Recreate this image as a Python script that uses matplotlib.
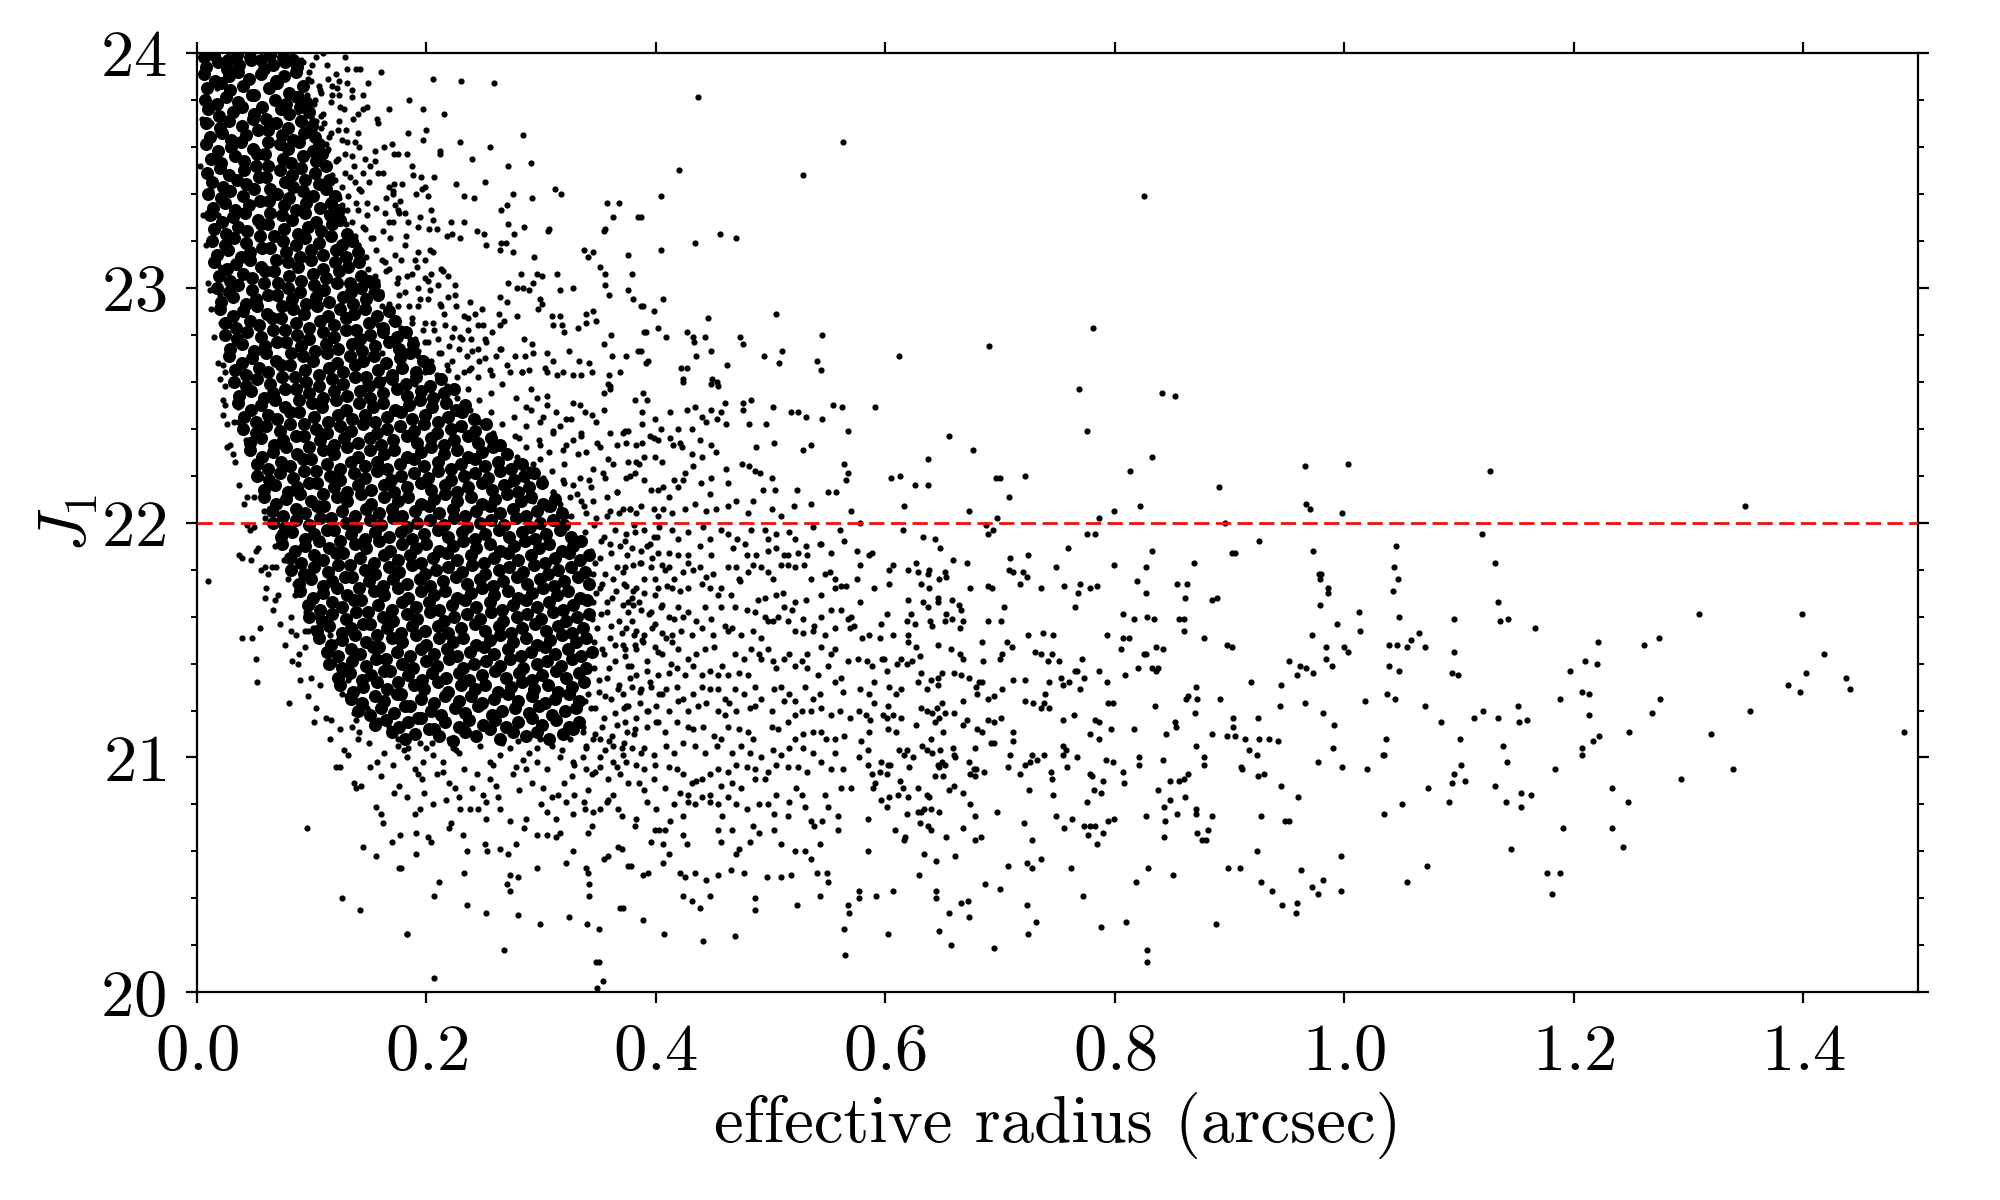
import numpy as np
import matplotlib.pyplot as plt
from matplotlib.ticker import MultipleLocator

plt.rcParams['font.family'] = 'serif'
plt.rcParams['font.serif'] = ['cmr10']
plt.rcParams['mathtext.fontset'] = 'cm'
plt.rcParams['axes.formatter.use_mathtext'] = True

# points as (effective radius in 1e-3 arcsec, J1 in 1e-2 mag)
# saturated core: single points cannot be told apart there, so these are estimates
core_upper = [
    (6,2398),(15,2399),(27,2397),(35,2399),(46,2398),(56,2397),(64,2399),(75,2398),(84,2397),
    (8,2394),(18,2396),(26,2393),(37,2395),(47,2397),(58,2393),(66,2395),(77,2396),(87,2394),
    (6,2391),(16,2388),(28,2390),(36,2392),(45,2389),(56,2391),(69,2388),(76,2390),(86,2392),
    (9,2385),(21,2387),(29,2384),(40,2386),(50,2382),(63,2385),(70,2387),(80,2383),(92,2386),
    (7,2380),(17,2378),(25,2381),(36,2379),(48,2382),(57,2377),(68,2380),(78,2378),(87,2381),(95,2379),
    (10,2376),(19,2373),(31,2375),(39,2377),(50,2374),(60,2372),(73,2376),(80,2374),(90,2377),(98,2375),
    (8,2370),(20,2368),(28,2371),(39,2369),(49,2372),(62,2367),(69,2370),(79,2368),(91,2371),(100,2369),
    (11,2364),(22,2366),(30,2363),(43,2365),(53,2367),(62,2362),(74,2365),(84,2363),(93,2366),(103,2364),
    (8,2361),(18,2358),(30,2360),(38,2362),(49,2359),(59,2357),(72,2361),(79,2359),(89,2362),(101,2358),(106,2361),
    (12,2355),(21,2353),(33,2356),(41,2354),(52,2357),(62,2352),(75,2355),(82,2353),(92,2356),(104,2354),(109,2357),
    (9,2349),(20,2351),(28,2348),(41,2350),(51,2352),(60,2347),(72,2350),(83,2348),(91,2351),(103,2349),(112,2352),
    (13,2345),(23,2343),(35,2346),(43,2344),(54,2347),(64,2342),(77,2345),(84,2343),(94,2346),(106,2344),(115,2346),
    (10,2340),(21,2338),(29,2341),(40,2339),(50,2342),(63,2337),(70,2340),(80,2338),(92,2341),(101,2339),(112,2342),(120,2339),
    (14,2334),(24,2336),(33,2333),(45,2335),(55,2337),(64,2332),(76,2335),(86,2333),(95,2336),(107,2334),(117,2336),(124,2333),
    (11,2331),(22,2328),(31,2330),(42,2332),(53,2329),(62,2327),(74,2331),(83,2329),(94,2332),(104,2328),(116,2331),(125,2329),
    (15,2325),(25,2323),(36,2326),(44,2324),(56,2327),(67,2322),(76,2325),(88,2323),(97,2326),(108,2324),(118,2327),(131,2323),
    (13,2320),(24,2318),(32,2321),(43,2319),(55,2322),(64,2317),(75,2320),(86,2318),(94,2321),(106,2319),(117,2322),(126,2318),(135,2320),
    (17,2314),(27,2316),(38,2313),(46,2315),(57,2317),(69,2312),(78,2315),(90,2313),(99,2316),(110,2314),(121,2316),(130,2313),(140,2315),
    (15,2311),(26,2308),(34,2310),(46,2312),(56,2309),(67,2307),(79,2311),(88,2309),(99,2312),(110,2308),(120,2311),(132,2309),(141,2311),
    (19,2305),(29,2303),(40,2306),(48,2304),(59,2307),(71,2302),(80,2305),(91,2303),(101,2306),(112,2304),(124,2307),(133,2302),(143,2305),(150,2303),
    (17,2300),(28,2298),(36,2301),(48,2299),(58,2302),(70,2297),(79,2300),(90,2298),(102,2301),(111,2299),(122,2302),(134,2298),(143,2300),(154,2301),
    (21,2294),(31,2296),(43,2293),(51,2295),(62,2297),(74,2292),(83,2295),(95,2293),(104,2296),(115,2294),(127,2296),(136,2293),(147,2295),(158,2297),
    (20,2291),(31,2288),(40,2290),(52,2292),(61,2289),(73,2287),(84,2291),(93,2289),(105,2292),(114,2288),(125,2291),(137,2289),(146,2291),(157,2288),(167,2290),
    (24,2285),(34,2283),(46,2286),(54,2284),(65,2287),(77,2282),(86,2285),(98,2283),(107,2286),(119,2284),(130,2287),(139,2282),(150,2285),(162,2283),(173,2286),
    (24,2280),(35,2278),(44,2281),(56,2279),(66,2282),(78,2277),(87,2280),(98,2278),(110,2281),(119,2279),(130,2282),(142,2278),(151,2280),(162,2281),(174,2279),(182,2281),
    (29,2274),(39,2276),(50,2273),(59,2275),(70,2277),(82,2272),(91,2275),(103,2273),(112,2276),(123,2274),(135,2276),(144,2273),(155,2275),(167,2277),(176,2274),(188,2276),
    (28,2271),(39,2268),(48,2270),(60,2272),(69,2269),(81,2267),(92,2271),(101,2269),(113,2272),(122,2268),(133,2271),(145,2269),(154,2271),(165,2268),(177,2270),(186,2272),(197,2269),
    (33,2265),(43,2263),(54,2266),(62,2264),(73,2267),(85,2262),(94,2265),(106,2263),(115,2266),(127,2264),(138,2267),(147,2262),(158,2265),(170,2263),(179,2266),(191,2264),(202,2266),
    (32,2260),(43,2258),(52,2261),(64,2259),(74,2262),(86,2257),(95,2260),(106,2258),(118,2261),(127,2259),(138,2262),(150,2258),(159,2260),(170,2261),(182,2259),(191,2262),(203,2258),(213,2261),
]
core_lower = [
    (37,2254),(47,2256),(58,2253),(66,2255),(77,2257),(89,2252),(98,2255),(110,2253),(119,2256),(131,2254),(142,2256),(151,2253),(162,2255),(174,2257),(183,2254),(195,2256),(206,2253),(215,2255),(224,2257),
    (36,2251),(47,2248),(56,2250),(68,2252),(77,2249),(89,2247),(100,2251),(109,2249),(121,2252),(130,2248),(141,2251),(153,2249),(162,2251),(173,2248),(185,2250),(194,2252),(205,2249),(217,2251),(226,2248),(234,2250),
    (41,2245),(51,2243),(62,2246),(70,2244),(81,2247),(93,2242),(102,2245),(114,2243),(123,2246),(135,2244),(146,2246),(155,2243),(166,2245),(178,2247),(187,2244),(199,2246),(210,2243),(219,2245),(231,2247),(241,2244),
    (40,2240),(51,2238),(60,2241),(72,2239),(81,2242),(93,2237),(104,2240),(113,2238),(125,2241),(134,2239),(145,2242),(157,2238),(166,2240),(177,2241),(189,2239),(198,2242),(209,2238),(221,2240),(230,2241),(242,2239),(252,2242),
    (46,2234),(56,2236),(67,2233),(75,2235),(86,2237),(98,2232),(107,2235),(119,2233),(128,2236),(140,2234),(151,2236),(160,2233),(171,2235),(183,2237),(192,2234),(204,2236),(215,2233),(224,2235),(236,2237),(245,2234),(256,2236),(264,2233),
    (46,2231),(57,2228),(66,2230),(78,2232),(87,2229),(99,2227),(110,2231),(119,2229),(131,2232),(140,2228),(151,2231),(163,2229),(172,2231),(183,2228),(195,2230),(204,2232),(215,2229),(227,2231),(236,2228),(248,2230),(258,2232),(270,2229),
    (52,2225),(62,2223),(73,2226),(81,2224),(92,2227),(104,2222),(113,2225),(125,2223),(134,2226),(146,2224),(157,2226),(166,2223),(177,2225),(189,2227),(198,2224),(210,2226),(221,2223),(230,2225),(242,2227),(251,2224),(262,2226),(274,2223),(283,2225),
    (52,2220),(63,2218),(72,2221),(84,2219),(93,2222),(105,2217),(116,2220),(125,2218),(137,2221),(146,2219),(157,2222),(169,2218),(178,2220),(189,2221),(201,2219),(210,2222),(221,2218),(233,2220),(242,2221),(254,2219),(264,2222),(276,2218),(285,2220),(294,2221),
    (58,2214),(68,2216),(79,2213),(87,2215),(98,2217),(110,2212),(119,2215),(131,2213),(140,2216),(152,2214),(163,2216),(172,2213),(183,2215),(195,2217),(204,2214),(216,2216),(227,2213),(236,2215),(248,2217),(257,2214),(268,2216),(280,2213),(289,2215),(301,2217),
    (58,2211),(69,2208),(78,2210),(90,2212),(99,2209),(111,2207),(122,2211),(131,2209),(143,2212),(152,2208),(163,2211),(175,2209),(184,2211),(195,2208),(207,2210),(216,2212),(227,2209),(239,2211),(248,2208),(260,2210),(270,2212),(282,2209),(291,2211),(302,2208),(312,2210),
    (65,2205),(75,2203),(86,2206),(94,2204),(105,2207),(117,2202),(126,2205),(138,2203),(147,2206),(159,2204),(170,2206),(179,2203),(190,2205),(202,2207),(211,2204),(223,2206),(234,2203),(243,2205),(255,2207),(264,2204),(275,2206),(287,2203),(296,2205),(308,2207),(318,2204),
    (66,2200),(77,2198),(86,2201),(98,2199),(107,2202),(119,2197),(130,2200),(139,2198),(151,2201),(160,2199),(171,2202),(183,2198),(192,2200),(203,2201),(215,2199),(224,2202),(235,2198),(247,2200),(256,2201),(268,2199),(278,2202),(290,2198),(299,2200),(310,2201),(320,2199),
    (73,2194),(83,2196),(94,2193),(102,2195),(113,2197),(125,2192),(134,2195),(146,2193),(155,2196),(167,2194),(178,2196),(187,2193),(198,2195),(210,2197),(219,2194),(231,2196),(242,2193),(251,2195),(263,2197),(272,2194),(283,2196),(295,2193),(304,2195),(316,2197),(326,2194),
    (74,2191),(85,2188),(94,2190),(106,2192),(115,2189),(127,2187),(138,2191),(147,2189),(159,2192),(168,2188),(179,2191),(191,2189),(200,2191),(211,2188),(223,2190),(232,2192),(243,2189),(255,2191),(264,2188),(276,2190),(286,2192),(298,2189),(307,2191),(318,2188),(328,2190),(335,2192),
    (81,2185),(91,2183),(102,2186),(110,2184),(121,2187),(133,2182),(142,2185),(154,2183),(163,2186),(175,2184),(186,2186),(195,2183),(206,2185),(218,2187),(227,2184),(239,2186),(250,2183),(259,2185),(271,2187),(280,2184),(291,2186),(303,2183),(312,2185),(324,2187),(334,2184),(342,2186),
    (82,2180),(93,2178),(102,2181),(114,2179),(123,2182),(135,2177),(146,2180),(155,2178),(167,2181),(176,2179),(187,2182),(199,2178),(208,2180),(219,2181),(231,2179),(240,2182),(251,2178),(263,2180),(272,2181),(284,2179),(294,2182),(306,2178),(315,2180),(326,2181),(338,2179),
    (89,2174),(99,2176),(110,2173),(118,2175),(129,2177),(141,2172),(150,2175),(162,2173),(171,2176),(183,2174),(194,2176),(203,2173),(214,2175),(226,2177),(235,2174),(247,2176),(258,2173),(267,2175),(279,2177),(288,2174),(299,2176),(311,2173),(320,2175),(332,2177),(342,2174),
    (90,2171),(101,2168),(110,2170),(122,2172),(131,2169),(143,2167),(154,2171),(163,2169),(175,2172),(184,2168),(195,2171),(207,2169),(216,2171),(227,2168),(239,2170),(248,2172),(259,2169),(271,2171),(280,2168),(292,2170),(302,2172),(314,2169),(323,2171),(334,2168),
    (97,2165),(107,2163),(118,2166),(126,2164),(137,2167),(149,2162),(158,2165),(170,2163),(179,2166),(191,2164),(202,2166),(211,2163),(222,2165),(234,2167),(243,2164),(255,2166),(266,2163),(275,2165),(287,2167),(296,2164),(307,2166),(319,2163),(328,2165),(340,2167),
    (98,2160),(109,2158),(118,2161),(130,2159),(139,2162),(151,2157),(162,2160),(171,2158),(183,2161),(192,2159),(203,2162),(215,2158),(224,2160),(235,2161),(247,2159),(256,2162),(267,2158),(279,2160),(288,2161),(300,2159),(310,2162),(322,2158),(331,2160),(342,2161),
    (105,2154),(115,2156),(126,2153),(134,2155),(145,2157),(157,2152),(166,2155),(178,2153),(187,2156),(199,2154),(210,2156),(219,2153),(230,2155),(242,2157),(251,2154),(263,2156),(274,2153),(283,2155),(295,2157),(304,2154),(315,2156),(327,2153),(336,2155),
    (106,2151),(117,2148),(126,2150),(138,2152),(147,2149),(159,2147),(170,2151),(179,2149),(191,2152),(200,2148),(211,2151),(223,2149),(232,2151),(243,2148),(255,2150),(264,2152),(275,2149),(287,2151),(296,2148),(308,2150),(318,2152),(330,2149),(339,2151),
    (113,2145),(123,2143),(134,2146),(142,2144),(153,2147),(165,2142),(174,2145),(186,2143),(195,2146),(207,2144),(218,2146),(227,2143),(238,2145),(250,2147),(259,2144),(271,2146),(282,2143),(291,2145),(303,2147),(312,2144),(323,2146),(335,2143),(344,2145),
    (115,2140),(126,2138),(135,2141),(147,2139),(156,2142),(168,2137),(179,2140),(188,2138),(200,2141),(209,2139),(220,2142),(232,2138),(241,2140),(252,2141),(264,2139),(273,2142),(284,2138),(296,2140),(305,2141),(317,2139),(327,2142),(339,2138),
    (123,2134),(133,2136),(144,2133),(152,2135),(163,2137),(175,2132),(184,2135),(196,2133),(205,2136),(217,2134),(228,2136),(237,2133),(248,2135),(260,2137),(269,2134),(281,2136),(292,2133),(301,2135),(313,2137),(322,2134),(333,2136),
    (125,2131),(136,2128),(145,2130),(157,2132),(166,2129),(178,2127),(189,2131),(198,2129),(210,2132),(219,2128),(230,2131),(242,2129),(251,2131),(262,2128),(274,2130),(283,2132),(294,2129),(306,2131),(315,2128),(327,2130),(337,2132),
    (134,2125),(144,2123),(155,2126),(163,2124),(174,2127),(186,2122),(195,2125),(207,2123),(216,2126),(228,2124),(239,2126),(248,2123),(259,2125),(271,2127),(280,2124),(292,2126),(303,2123),(312,2125),(324,2127),(333,2124),
    (140,2120),(151,2118),(160,2121),(172,2119),(181,2122),(193,2117),(204,2120),(213,2118),(225,2121),(234,2119),(245,2122),(257,2118),(266,2120),(277,2121),(289,2119),(298,2122),(309,2118),(321,2120),(330,2121),
    (155,2114),(165,2116),(176,2113),(184,2115),(195,2117),(207,2112),(216,2115),(228,2113),(237,2116),(249,2114),(260,2116),(269,2113),(280,2115),(292,2117),(301,2114),(313,2116),(324,2113),(333,2115),
    (170,2111),(181,2108),(190,2110),(202,2112),(211,2109),(223,2107),(234,2111),(243,2109),(255,2112),(264,2108),(275,2111),(287,2109),(296,2111),(307,2108),(319,2110),(328,2112),
]

# thinning fringe round the core (estimated, same dot size as the rest)
fringe_pts = [
    (92,2396),(98,2392),(104,2398),(113,2395),(121,2391),(99,2388),(107,2384),(114,2389),(122,2385),(131,2387),
    (96,2382),(102,2378),(110,2374),(117,2379),(128,2376),(136,2372),(104,2371),(108,2368),(115,2364),(123,2367),
    (131,2362),(140,2366),(112,2361),(113,2358),(121,2354),(129,2357),(137,2352),(146,2355),(155,2358),(118,2348),
    (126,2343),(133,2347),(141,2342),(150,2345),(158,2349),(167,2343),(124,2338),(131,2333),(139,2336),(148,2331),
    (156,2334),(165,2338),(176,2332),(130,2327),(138,2322),(145,2326),(153,2321),(162,2324),(171,2328),(182,2322),
    (193,2326),(140,2318),(147,2313),(156,2316),(164,2311),(173,2314),(181,2318),(190,2312),(203,2316),(149,2308),
    (157,2303),(165,2307),(174,2302),(183,2305),(192,2309),(201,2303),(214,2307),(160,2298),(167,2293),(176,2297),
    (185,2292),(194,2295),(203,2299),(212,2293),(225,2297),(238,2294),(170,2288),(178,2283),(187,2287),(197,2282),
    (206,2285),(215,2289),(224,2283),(236,2287),(249,2284),(186,2278),(193,2273),(201,2277),(211,2272),(220,2275),
    (229,2279),(240,2273),(252,2277),(265,2274),(200,2268),(209,2263),(218,2267),(227,2262),(237,2265),(246,2269),
    (257,2263),(270,2267),(283,2264),(218,2258),(227,2253),(236,2257),(246,2252),(256,2255),(266,2259),(278,2253),
    (291,2257),(305,2254),(238,2248),(247,2243),(256,2247),(266,2242),(276,2245),(287,2249),(299,2243),(313,2247),
    (326,2244),(258,2238),(267,2233),(277,2237),(287,2232),(298,2235),(310,2239),(322,2233),(335,2237),(349,2234),
    (279,2228),(289,2223),(299,2227),(309,2222),(320,2225),(332,2229),(345,2223),(358,2227),(299,2218),(310,2213),
    (320,2217),(331,2212),(343,2215),(356,2219),(366,2213),(316,2208),(326,2203),(337,2207),(348,2202),(360,2205),
    (150,2106),(163,2102),(171,2097),(184,2104),(193,2093),(205,2106),(214,2098),(226,2103),(233,2095),(247,2105),
    (258,2097),(266,2106),(275,2093),(284,2099),(296,2104),(305,2095),(318,2103),(327,2092),(336,2100),(347,2094),
    (356,2103),(366,2096),(160,2092),(176,2088),(198,2085),(217,2082),(240,2087),(262,2083),(281,2086),(300,2080),
    (320,2089),(341,2086),(358,2082),(190,2076),(221,2072),(252,2074),(285,2070),(316,2068),(344,2071),
    (4,2372),(3,2352),(5,2331),(8,2318),(10,2302),(12,2291),(15,2279),(18,2268),(20,2261),(23,2252),
    (26,2242),(29,2233),(33,2226),(37,2216),(41,2208),(46,2197),(51,2188),(56,2180),(60,2172),(66,2163),
    (72,2157),(77,2148),(83,2141),(90,2133),(97,2126),(104,2121),(112,2117),(125,2112),(140,2108),(30,2270),
    (14,2330),(6,2385),
    (352,2192),(361,2187),(347,2183),(356,2178),(366,2181),(351,2172),(362,2168),(372,2174),(345,2166),(357,2162),
    (368,2158),(349,2155),(360,2151),(371,2148),(353,2146),(364,2141),(346,2138),(357,2134),(368,2131),(350,2128),
    (361,2125),(372,2121),(343,2121),(355,2117),(366,2114),(347,2110),(359,2107),(370,2104),(339,2104),(351,2100),
    (336,2113),(341,2127),(376,2166),(369,2190),(378,2139),(363,2098),(329,2097),(344,2093),(375,2111),(381,2152),
    (338,2196),(346,2199),(355,2194),(364,2197),(373,2192),(381,2199),(392,2190),(401,2194),(343,2188),(351,2185),
    (360,2191),(375,2186),(386,2183),(397,2185),(408,2180),(345,2178),(353,2174),(363,2176),(371,2179),(380,2171),
    (390,2176),(399,2169),(410,2173),(348,2170),(357,2166),(365,2171),(376,2162),(385,2166),(394,2161),(404,2164),
    (416,2159),(344,2159),(352,2161),(361,2156),(370,2153),(379,2158),(388,2150),(397,2155),(409,2151),(346,2149),
    (355,2144),(364,2148),(373,2143),(383,2146),(392,2141),(402,2145),(413,2140),(341,2137),(350,2133),(359,2138),
    (367,2129),(377,2134),(386,2128),(395,2132),(405,2127),(338,2124),(347,2121),(356,2126),(364,2119),(374,2122),
    (383,2117),(392,2120),(402,2115),(336,2111),(345,2108),(353,2113),(362,2109),(372,2106),(381,2110),(390,2104),
]

# resolvable points around the core, r < 0.4
edge_upper = [
    (83,2399),(110,2400),(129,2398),(131,2393),(139,2393),(142,2393),(160,2392),(206,2389),(230,2388),(259,2387),
    (124,2388),(118,2386),(149,2387),(124,2382),(118,2382),(135,2384),(135,2381),(145,2382),(148,2377),(145,2376),
    (140,2374),(125,2377),(185,2380),(197,2376),(167,2376),(157,2372),(158,2370),(215,2374),(124,2371),(130,2367),
    (184,2366),(200,2367),(197,2363),(284,2365),(138,2362),(141,2360),(163,2360),(170,2361),(172,2357),(175,2357),
    (183,2357),(212,2358),(212,2357),(229,2362),(240,2355),(255,2360),(271,2352),(291,2353),(155,2354),(151,2352),
    (162,2349),(145,2349),(187,2352),(188,2348),(195,2347),(207,2347),(172,2344),(179,2344),(171,2341),(171,2340),
    (191,2340),(196,2342),(199,2343),(201,2339),(226,2344),(233,2339),(241,2338),(251,2345),(275,2340),(292,2338),
    (312,2342),(317,2340),(357,2336),(368,2336),(363,2330),(384,2330),(356,2325),(355,2324),(265,2333),(270,2335),
    (271,2327),(276,2323),(285,2326),(306,2324),(307,2325),(204,2333),(206,2329),(202,2325),(209,2325),(194,2330),
    (173,2335),(177,2337),(175,2333),(181,2332),(184,2328),(167,2328),(168,2321),(164,2332),(221,2328),(233,2328),
    (222,2323),(229,2321),(218,2322),(244,2324),(250,2323),(252,2318),(265,2319),(269,2319),(264,2316),(275,2315),
    (294,2313),(337,2316),(341,2313),(345,2315),(376,2314),(351,2309),(356,2306),(379,2306),(356,2301),(359,2297),
    (376,2299),(387,2292),(380,2295),(328,2300),(316,2299),(314,2306),(296,2306),(301,2305),(282,2306),(271,2302),
    (279,2300),(284,2300),(289,2299),(293,2302),(299,2295),(301,2293),(297,2291),(264,2296),(270,2294),(279,2288),
    (309,2288),(316,2288),(310,2284),(318,2284),(320,2281),(339,2289),(345,2290),(339,2285),(348,2286),(332,2283),
    (361,2280),(390,2281),(355,2276),(362,2271),(374,2271),(384,2273),(391,2268),(369,2264),(359,2263),(358,2259),
    (360,2257),(324,2273),(333,2269),(342,2268),(344,2264),(305,2272),(310,2269),(305,2264),(303,2266),(314,2263),
    (319,2264),(328,2263),(335,2263),(285,2278),(292,2276),(293,2272),(286,2271),(277,2271),(273,2264),(283,2264),
    (289,2265),(263,2289),(268,2286),(264,2284),(257,2281),(251,2278),(261,2271),(264,2274),(251,2270),(255,2265),
    (226,2292),(233,2288),(242,2289),(248,2291),(245,2284),(236,2282),(231,2278),(239,2278),(245,2274),(235,2271),
    (228,2274),(222,2269),(239,2266),(245,2262),(233,2264),
    (193,2315),(199,2312),(206,2315),(213,2308),(219,2305),(204,2306),(199,2304),(193,2300),(210,2301),(219,2296),
    (225,2301),(213,2292),(201,2295),(193,2292),(187,2285),(199,2285),(207,2282),(216,2284),(222,2279),(210,2278),
    (199,2277),(190,2278),(193,2271),(204,2269),(213,2272),(219,2265),(210,2262),(199,2264),(190,2259),(178,2267),
    (175,2272),(169,2278),(178,2282),(169,2286),(175,2292),(181,2298),(175,2304),(167,2308),(178,2312),(187,2306),
    (161,2312),(155,2305),(152,2298),(161,2292),(158,2284),(152,2278),(161,2272),(155,2265),(164,2261),(146,2259),
    (111,2370),(117,2366),(126,2363),(114,2359),(123,2355),(135,2356),(129,2349),(120,2346),(138,2345),(143,2341),
    (132,2339),(126,2335),(140,2333),(148,2336),(135,2328),(146,2325),(152,2321),(140,2318),(129,2321),(117,2326),
    (65,2397),(74,2396),(91,2397),(100,2395),(76,2390),(85,2392),(97,2389),(106,2386),(71,2386),(79,2383),
    (91,2382),(103,2380),(108,2383),(68,2379),(76,2376),(88,2375),(100,2372),(108,2373),
    (10,2348),(12,2341),(11,2299),(20,2297),(23,2267),(24,2264),(21,2285),(27,2284),(18,2331),(18,2315),
    (20,2309),(17,2385),(11,2377),(12,2370),
]
edge_lower = [
    (360,2258),(355,2255),(355,2248),(348,2243),(344,2246),(338,2247),(334,2250),(328,2251),(322,2244),(316,2241),
    (310,2238),(302,2245),(305,2250),(296,2253),(291,2248),(287,2241),(281,2236),(299,2233),(307,2230),(319,2231),
    (328,2235),(335,2238),(339,2230),(351,2232),(360,2238),(366,2233),(373,2239),(376,2226),(363,2225),(354,2221),
    (342,2218),(334,2219),(328,2216),(319,2218),(310,2213),(302,2219),(293,2225),(287,2218),(278,2226),(273,2216),
    (281,2209),(293,2209),(305,2206),(316,2206),(325,2211),(335,2209),(345,2209),(357,2211),(366,2213),(374,2219),
    (377,2206),(368,2204),(357,2203),(339,2204),(322,2203),
    (10,2175),(37,2186),(39,2185),(47,2184),(53,2189),(59,2181),(65,2181),(62,2178),(59,2168),(68,2167),
    (71,2169),(39,2151),(48,2151),(55,2155),(51,2142),(52,2132),(80,2123),(82,2160),(82,2154),(86,2152),
    (94,2154),(97,2154),(101,2155),(94,2147),(89,2144),(88,2140),(99,2134),(107,2131),(102,2115),(117,2116),
    (116,2108),(126,2127),(131,2126),(128,2103),(132,2101),(121,2096),(125,2096),(137,2089),(139,2087),(143,2088),
    (96,2070),(145,2062),(156,2079),(160,2076),(162,2072),(172,2085),(170,2064),(177,2067),(156,2058),(176,2053),
    (126,2040),(142,2035),(183,2025),(151,2096),(157,2098),(135,2113),(139,2116),(141,2111),(137,2119),(148,2121),
    (149,2118),(158,2116),(161,2115),(167,2113),(172,2111),(175,2105),(180,2103),(175,2108),(24,2250),(23,2246),
    (24,2258),(26,2232),(31,2229),(32,2243),(36,2243),(36,2249),(40,2255),(43,2235),(44,2211),(50,2211),
    (52,2223),(55,2219),(58,2205),(59,2202),(44,2199),(50,2198),(68,2190),(72,2196),(76,2184),(69,2181),
    (79,2176),(85,2174),(85,2169),(91,2172),(95,2162),(100,2165),(105,2160),(111,2158),(116,2152),(120,2149),
    (123,2143),(119,2140),(126,2135),(132,2133),
    (188,2109),(194,2106),(200,2104),(206,2101),(220,2108),(223,2104),(228,2102),(183,2100),(190,2095),(197,2098),
    (196,2091),(209,2093),(214,2094),(220,2089),(225,2087),(228,2083),(229,2078),(238,2078),(245,2078),(252,2081),
    (249,2084),(255,2091),(261,2088),(244,2093),(255,2098),(264,2101),(273,2104),(280,2107),(289,2102),(278,2096),
    (287,2095),(292,2089),(302,2087),(309,2083),(315,2084),(322,2081),(329,2084),(337,2081),(345,2077),(357,2081),
    (367,2078),(358,2091),(351,2096),(339,2095),(328,2098),(316,2100),(309,2105),(299,2108),(325,2108),(339,2105),
    (351,2108),(363,2105),(371,2101),(369,2093),(363,2084),(296,2098),(264,2078),(273,2073),(287,2074),(305,2077),
    (313,2074),(328,2076),(338,2078),(351,2078),(206,2080),(194,2078),(183,2083),
    (191,2068),(201,2066),(204,2064),(220,2070),(232,2067),(235,2060),(251,2063),(253,2060),(264,2061),(271,2059),
    (278,2063),(296,2067),(305,2067),(313,2066),(328,2060),(341,2068),(178,2053),(191,2059),(211,2047),(207,2041),
    (233,2051),(235,2037),(252,2034),(270,2046),(273,2050),(280,2049),(273,2043),(296,2053),(322,2055),(339,2053),
    (341,2051),(342,2046),(342,2041),(355,2057),(358,2058),(367,2062),(376,2054),(369,2036),(280,2033),(299,2029),
    (324,2032),(340,2029),(350,2027),(183,2025),(268,2018),(348,2013),(350,2013),(207,2006),(354,2005),(349,2002),
]

# 0.37 < r < 0.6
mid_pts = [
    (424,2260),(448,2259),(454,2258),(389,2255),(382,2252),(392,2252),(412,2247),(427,2248),(434,2249),(440,2245),
    (444,2243),(448,2248),(457,2247),(460,2251),(453,2244),(461,2242),(476,2251),(476,2248),(483,2252),(481,2242),
    (496,2242),(502,2249),(518,2247),(524,2247),(531,2245),(545,2244),(554,2250),(562,2249),(388,2247),(388,2242),
    (399,2244),(431,2240),(376,2239),(371,2238),(374,2234),(383,2233),(388,2234),(395,2237),(398,2236),(402,2235),
    (404,2240),(412,2236),(415,2233),(419,2240),(421,2234),(423,2232),(438,2235),(448,2233),(452,2230),(431,2229),
    (440,2228),(405,2226),(399,2228),(390,2228),(383,2226),(487,2232),(503,2234),(528,2231),(535,2233),(567,2239),
    (377,2220),(385,2225),(382,2221),(390,2218),(396,2214),(402,2214),(406,2215),(411,2211),(416,2218),(419,2215),
    (425,2221),(424,2218),(432,2224),(439,2217),(448,2219),(447,2212),(461,2223),(463,2217),(475,2225),(481,2224),
    (486,2222),(491,2221),(493,2214),(501,2219),(504,2214),(523,2214),(535,2208),(520,2207),(550,2213),(557,2213),
    (564,2225),(567,2221),(566,2218),(570,2205),(578,2200),(591,2249),(575,2188),(578,2182),(586,2186),(588,2187),
    (575,2176),(590,2172),(578,2166),(570,2160),(573,2156),(580,2151),(586,2152),(596,2157),(595,2151),(576,2142),
    (584,2141),(588,2139),(597,2142),(590,2132),(578,2129),(586,2127),(590,2123),(577,2120),(583,2118),(587,2116),
    (598,2118),(586,2111),(579,2107),(585,2103),(577,2100),(585,2097),(596,2098),(595,2094),(588,2093),(591,2089),
    (589,2087),(596,2082),(585,2074),(585,2060),(577,2043),(577,2040),(592,2041),
    (371,2206),(377,2206),(387,2207),(398,2206),(406,2206),(414,2204),(425,2206),(434,2208),(444,2205),(452,2206),
    (463,2207),(470,2209),(485,2209),(480,2204),(501,2206),(509,2203),(383,2204),(402,2203),
    (374,2195),(382,2196),(390,2197),(398,2194),(403,2198),(414,2197),(419,2193),(428,2196),(441,2198),(447,2193),
    (457,2197),(463,2195),(471,2193),(478,2191),(483,2197),(495,2197),(498,2193),(505,2195),(516,2196),(521,2193),
    (531,2190),(537,2198),(543,2191),(560,2197),(564,2192),(379,2189),(387,2188),(395,2191),(402,2187),(411,2187),
    (419,2186),(428,2186),(438,2190),(448,2186),(467,2189),(479,2186),(487,2186),(498,2188),(505,2189),(512,2186),
    (515,2186),(524,2187),(532,2186),(553,2187),(544,2191),
    (373,2181),(380,2182),(387,2183),(396,2181),(405,2182),(411,2181),(416,2176),(424,2179),(428,2183),(432,2180),
    (438,2181),(444,2177),(450,2178),(457,2172),(463,2181),(470,2181),(472,2176),(480,2179),(485,2182),(492,2181),
    (498,2179),(502,2176),(509,2182),(515,2182),(521,2181),(529,2182),(535,2176),(547,2178),(552,2179),(556,2176),
    (561,2173),(566,2173),(374,2173),(383,2172),(390,2170),(399,2176),(402,2172),(414,2172),(421,2171),(428,2172),
    (440,2174),(447,2172),(454,2169),(465,2169),(473,2175),(489,2167),(495,2168),(505,2169),(511,2170),(521,2166),
    (531,2167),(544,2169),(556,2172),(379,2168),
    (371,2165),(380,2165),(387,2163),(396,2162),(405,2165),(411,2160),(419,2164),(424,2160),(428,2162),(435,2158),
    (443,2164),(448,2159),(457,2164),(460,2156),(463,2154),(469,2164),(479,2163),(486,2162),(495,2160),(502,2158),
    (512,2164),(519,2163),(528,2159),(538,2156),(544,2160),(553,2163),(561,2163),(374,2155),(383,2154),(390,2152),
    (399,2157),(405,2153),(414,2152),(422,2154),(431,2152),(440,2155),(450,2152),(466,2155),(474,2152),(485,2154),
    (492,2151),(498,2158),(506,2160),(515,2158),(521,2154),(528,2153),(537,2154),(547,2152),(556,2155),(567,2159),
    (569,2155),
    (373,2146),(382,2148),(389,2149),(399,2147),(405,2144),(414,2149),(419,2146),(428,2142),(435,2144),(443,2146),
    (451,2147),(458,2139),(469,2144),(477,2142),(483,2146),(490,2144),(498,2146),(502,2141),(512,2142),(516,2144),
    (527,2141),(532,2144),(544,2147),(553,2144),(556,2146),(567,2141),(376,2139),(383,2135),(392,2137),(402,2135),
    (411,2136),(418,2138),(425,2135),(432,2139),(440,2135),(447,2137),(454,2135),(463,2135),(472,2136),(480,2135),
    (492,2142),(505,2138),(521,2139),(532,2138),(541,2135),(550,2139),(561,2134),
    (371,2127),(379,2130),(387,2129),(396,2130),(403,2127),(409,2129),(418,2130),(424,2125),(432,2127),(440,2130),
    (447,2129),(454,2129),(460,2125),(469,2129),(477,2127),(486,2130),(492,2125),(503,2129),(509,2130),(516,2127),
    (521,2124),(530,2130),(537,2125),(543,2127),(556,2132),(563,2128),(376,2122),(386,2123),(393,2120),(400,2122),
    (411,2120),(419,2124),(428,2120),(437,2122),(444,2123),(454,2120),(460,2118),(464,2123),(470,2120),(482,2121),
    (486,2122),(501,2120),(512,2124),(521,2118),(527,2120),(535,2120),(544,2121),(553,2118),(560,2120),(569,2117),
    (373,2115),(382,2112),(392,2113),(400,2115),(408,2111),(418,2115),(428,2113),(432,2112),(441,2113),(451,2109),
    (457,2108),(463,2113),(472,2112),(480,2111),(485,2108),(501,2113),(506,2112),(515,2115),(521,2108),(528,2110),
    (537,2111),(544,2111),(548,2108),(556,2108),(564,2109),(379,2104),(387,2102),(398,2101),(409,2105),(416,2102),
    (424,2106),(434,2105),(443,2102),(453,2105),(466,2102),(474,2105),(482,2102),(492,2100),(502,2103),(509,2101),
    (516,2104),(528,2104),(537,2102),(556,2102),
    (374,2098),(383,2097),(390,2095),(399,2097),(411,2096),(418,2095),(424,2093),(431,2089),(440,2091),(447,2093),
    (454,2095),(463,2094),(470,2097),(479,2096),(486,2095),(498,2094),(505,2097),(515,2096),(524,2096),(532,2094),
    (544,2098),(553,2095),(563,2095),(376,2089),(385,2089),(390,2086),(398,2091),(408,2087),(421,2085),(428,2084),
    (435,2090),(447,2084),(457,2088),(466,2089),(474,2087),(486,2091),(495,2091),(505,2084),(522,2087),(527,2084),
    (547,2084),(561,2087),(570,2087),
    (370,2075),(383,2074),(392,2081),(400,2078),(403,2069),(412,2073),(416,2080),(424,2075),(428,2081),(434,2080),
    (440,2083),(447,2081),(454,2080),(458,2075),(463,2083),(470,2080),(479,2078),(485,2071),(490,2068),(498,2080),
    (503,2076),(503,2069),(515,2075),(516,2081),(530,2079),(535,2073),(538,2071),(545,2073),(550,2079),(559,2075),
    (559,2069),(382,2071),(399,2069),(408,2069),(424,2067),(454,2069),(466,2069),(490,2080),
    (370,2061),(396,2064),(406,2063),(411,2059),(427,2063),(457,2064),(470,2059),(482,2064),(472,2061),(509,2063),
    (521,2060),(530,2060),(535,2057),(543,2063),(378,2054),(389,2050),(393,2051),(406,2055),(421,2051),(425,2049),
    (434,2051),(444,2048),(454,2050),(465,2052),(477,2051),(497,2049),(509,2049),(518,2050),(540,2051),(549,2051),
    (550,2047),(371,2036),(389,2031),(407,2025),(424,2041),(431,2039),(438,2036),(447,2041),(441,2022),(469,2024),
    (486,2040),(486,2035),(523,2037),(543,2041),(564,2027),(565,2016),(567,2037),(568,2034),
]

# r > 0.6 and the upper right
tail_pts = [
    (437,2381),(563,2362),(420,2350),(528,2348),(404,2339),(825,2339),(387,2330),(456,2323),(470,2321),(434,2319),
    (404,2316),(406,2295),(389,2292),(398,2290),(505,2289),(445,2287),(781,2283),(402,2283),(391,2281),(409,2279),
    (427,2281),(432,2279),(443,2279),(473,2279),(545,2280),(433,2277),(476,2276),(690,2275),(448,2273),(510,2273),
    (387,2273),(494,2271),(435,2271),(612,2271),(393,2269),(540,2269),(507,2268),(462,2267),(422,2266),(427,2266),
    (544,2265),(424,2261),(449,2261),(453,2260),
    (769,2257),(841,2255),(852,2254),(776,2239),(655,2237),(676,2231),(832,2228),(637,2227),(1003,2225),(966,2224),
    (813,2222),(605,2219),(613,2220),(696,2219),(700,2219),(722,2220),(626,2216),(637,2216),(891,2215),(708,2211),
    (616,2207),(822,2207),(967,2208),(970,2206),(673,2205),(799,2205),(998,2204),(697,2202),(786,2202),(896,2200),
    (688,2199),(615,2197),(689,2195),(694,2197),(776,2195),(783,2195),(633,2194),(643,2193),(926,2192),(648,2189),
    (759,2189),(832,2188),(973,2188),(902,2187),(905,2187),(709,2185),(724,2186),(659,2184),(869,2183),(671,2183),
    (799,2182),(827,2181),(627,2183),(607,2182),(603,2180),(620,2180),(638,2180),(628,2179),(637,2178),(652,2179),
    (653,2177),(708,2180),(711,2179),(720,2179),(723,2177),(749,2181),(647,2176),(603,2174),(631,2174),(638,2172),
    (674,2172),(689,2173),(693,2172),(717,2174),(736,2172),(756,2173),(770,2174),(778,2172),(784,2173),(768,2170),
    (819,2175),(827,2170),(854,2174),(863,2174),(861,2168),(986,2172),(986,2170),(978,2178),(980,2178),(979,2176),
    (885,2167),(889,2168),(979,2165),(620,2167),(633,2166),(637,2164),(646,2168),(646,2166),(658,2167),(664,2165),
    (666,2163),(703,2164),(765,2164),(601,2161),(622,2161),(653,2161),(639,2158),(641,2156),(619,2158),(626,2157),
    (652,2158),(658,2159),(668,2158),(665,2155),(689,2158),(701,2158),(807,2161),(817,2159),(828,2160),(834,2159),
    (856,2159),(860,2159),(860,2154),(1013,2162),(994,2157),(1014,2154),(607,2152),(620,2152),(620,2149),(684,2149),
    (646,2148),(657,2146),(627,2147),(706,2149),(710,2147),(724,2152),(737,2153),(746,2152),(793,2152),(807,2151),
    (812,2151),(878,2151),(898,2148),(902,2147),(972,2152),(984,2147),(1000,2147),(1003,2145),(599,2142),(614,2142),
    (610,2140),(619,2140),(623,2141),(630,2143),(665,2144),(668,2142),(685,2141),(700,2142),(702,2144),(730,2145),
    (736,2144),(745,2144),(742,2141),(751,2141),(771,2142),(805,2146),(825,2144),(827,2144),(836,2147),(842,2146),
    (952,2141),(961,2139),(967,2138),(973,2136),(989,2139),(984,2142),(601,2137),(631,2136),(640,2133),(646,2134),
    (649,2136),(646,2131),(660,2136),(666,2135),(673,2134),(684,2132),(682,2132),(679,2130),(680,2127),(711,2133),
    (722,2133),(743,2132),(753,2134),(755,2131),(760,2132),(765,2137),(767,2137),(773,2134),(770,2129),(786,2137),
    (793,2132),(809,2135),(820,2138),(832,2138),(836,2137),(838,2138),(919,2132),(945,2131),(959,2135),(603,2130),
    (609,2127),(614,2129),(628,2132),(636,2129),(668,2124),(689,2125),(695,2126),(702,2129),(722,2124),(729,2123),
    (736,2121),(738,2123),(739,2127),(743,2121),(794,2123),(798,2123),(835,2122),(862,2125),(864,2126),(871,2130),
    (872,2125),(892,2125),(944,2122),(966,2123),(1018,2124),(602,2122),(601,2117),(607,2118),(614,2117),(631,2121),
    (636,2120),(641,2119),(645,2121),(649,2123),(652,2119),(647,2117),(643,2115),(660,2119),(627,2114),(668,2114),
    (671,2116),(689,2116),(695,2115),(701,2117),(602,2112),(609,2111),(650,2111),(680,2112),(684,2111),(711,2111),
    (711,2107),(755,2116),(764,2118),(783,2116),(786,2115),(797,2112),(778,2110),(786,2108),(817,2112),(852,2115),
    (853,2113),(845,2110),(870,2119),(885,2110),(898,2109),(903,2117),(903,2113),(905,2109),(913,2108),(925,2117),
    (926,2108),(934,2108),(942,2107),(981,2119),(991,2114),(640,2108),(632,2105),(636,2103),(641,2102),(648,2103),
    (612,2103),(616,2101),(619,2103),(624,2100),(659,2104),(660,2101),(661,2100),(678,2104),(692,2106),(695,2106),
    (709,2101),(728,2101),(732,2099),(738,2101),(726,2098),(722,2097),(755,2105),(757,2103),(755,2101),(767,2100),
    (792,2099),(798,2098),(821,2100),(821,2097),(842,2099),(871,2105),(878,2100),(878,2097),(917,2103),(924,2101),
    (977,2098),(990,2104),(998,2096),(1020,2095),(1034,2101),(602,2097),(604,2097),(601,2093),(621,2096),(646,2097),
    (649,2098),(652,2097),(647,2096),(643,2092),(650,2092),(673,2098),(674,2093),(677,2095),(679,2095),(678,2092),
    (686,2094),(707,2096),(717,2093),(744,2094),(745,2091),(758,2096),(778,2093),(780,2092),(790,2090),(807,2094),
    (808,2089),(848,2090),(856,2090),(860,2091),(864,2093),(910,2096),(911,2095),(925,2092),(930,2093),(945,2088),
    (613,2090),(615,2087),(628,2087),(655,2086),(660,2088),(611,2084),(620,2083),(603,2083),(636,2084),(638,2083),
    (668,2085),(725,2086),(746,2084),(782,2086),(788,2085),(776,2081),(838,2086),(848,2082),(861,2083),(960,2083),
    (674,2080),(601,2079),(619,2076),(628,2077),(631,2077),(634,2078),(640,2078),(647,2077),(697,2077),(678,2075),
    (843,2079),(871,2078),(871,2076),(827,2075),(854,2076),(844,2073),(885,2075),(927,2075),(749,2075),(763,2074),
    (794,2073),(799,2074),(630,2072),(637,2071),(640,2069),(608,2069),(617,2066),(616,2065),(668,2070),(653,2066),
    (678,2065),(683,2066),(721,2072),(728,2065),(756,2070),(773,2071),(778,2071),(783,2071),(777,2067),(784,2063),
    (790,2068),(843,2066),(872,2068),(876,2065),(879,2065),(881,2069),(948,2073),(952,2073),(924,2060),(997,2058),
    (634,2059),(644,2056),(661,2058),(629,2050),(707,2054),(723,2055),(728,2053),(736,2057),(762,2053),(829,2053),
    (851,2050),(899,2053),(909,2053),(962,2052),(818,2047),(927,2047),(981,2048),(972,2045),(607,2043),(644,2043),
    (644,2040),(687,2046),(700,2044),(772,2041),(937,2043),(977,2042),(997,2043),(666,2038),(672,2039),(723,2037),
    (959,2038),(946,2037),(655,2034),(673,2032),(958,2034),(731,2030),(788,2028),(810,2030),(888,2029),(602,2025),
    (647,2026),(724,2025),(657,2020),(695,2019),(828,2018),(828,2013),
    (1127,2222),(1349,2207),(1120,2195),(1045,2190),(1131,2183),(1043,2181),(1047,2176),(1042,2171),(1134,2166),(1048,2160),
    (1096,2159),(1136,2158),(1143,2159),(1166,2155),(1309,2161),(1399,2161),(1065,2153),(1058,2150),(1039,2148),(1046,2148),
    (1055,2147),(1070,2147),(1096,2145),(1221,2149),(1261,2148),(1274,2151),(1418,2144),(1039,2139),(1048,2137),(1094,2136),
    (1099,2135),(1210,2141),(1220,2140),(1197,2137),(1402,2136),(1437,2134),(1441,2129),(1387,2131),(1397,2128),(1037,2127),
    (1044,2125),(1070,2122),(1207,2128),(1213,2127),(1188,2125),(1275,2125),(1268,2119),(1354,2120),(1151,2122),(1121,2120),
    (1113,2117),(1084,2115),(1134,2117),(1152,2115),(1159,2116),(1213,2118),(1036,2108),(1101,2108),(1222,2109),(1217,2107),
    (1248,2111),(1320,2110),(1488,2111),(1138,2105),(1207,2104),(1207,2101),(1035,2101),(1142,2098),(1102,2097),(1184,2095),
    (1096,2093),(1094,2089),(1105,2090),(1131,2088),(1339,2095),(1293,2091),(1073,2087),(1233,2087),(1154,2085),(1163,2084),
    (1141,2081),(1247,2081),(1091,2081),(1050,2080),(1154,2079),(1035,2076),(1191,2070),(1233,2070),(1145,2061),(1243,2062),
    (1072,2054),(1177,2051),(1188,2051),(1055,2047),(1181,2042),
]

j_cut = 22.0


def xy(pts):
    a = np.array(pts, dtype=float)
    return a[:, 0] / 1000.0, a[:, 1] / 100.0


fig = plt.figure(figsize=(10, 6), dpi=200)
ax = fig.add_axes([0.0985, 0.173, 0.8605, 0.783])

for pts in (core_upper, core_lower):
    x, y = xy(pts)
    ax.scatter(x, y, s=22, c='k', linewidths=0, zorder=2)
for pts in (fringe_pts, edge_upper, edge_lower, mid_pts, tail_pts):
    x, y = xy(pts)
    ax.scatter(x, y, s=5, c='k', linewidths=0, zorder=2)

ax.axhline(j_cut, color='#ee1111', lw=1.0, ls=(0, (5.5, 2.3)), zorder=3)

ax.set_xlim(0, 1.5)
ax.set_ylim(20, 24)
ax.xaxis.set_major_locator(MultipleLocator(0.2))
ax.yaxis.set_major_locator(MultipleLocator(1))
ax.yaxis.set_minor_locator(MultipleLocator(0.2))
ax.tick_params(which='both', direction='out', top=True, right=True, labelsize=24, pad=7)
ax.tick_params(which='major', length=4, width=0.8)
ax.tick_params(which='minor', length=2.2, width=0.7)
for sp in ax.spines.values():
    sp.set_linewidth(0.8)

ax.set_xlabel('effective radius (arcsec)', fontsize=24, labelpad=3.5)
ax.set_ylabel(r'$J_1$', fontsize=24, labelpad=0)

fig.savefig('out.png', dpi=200)
